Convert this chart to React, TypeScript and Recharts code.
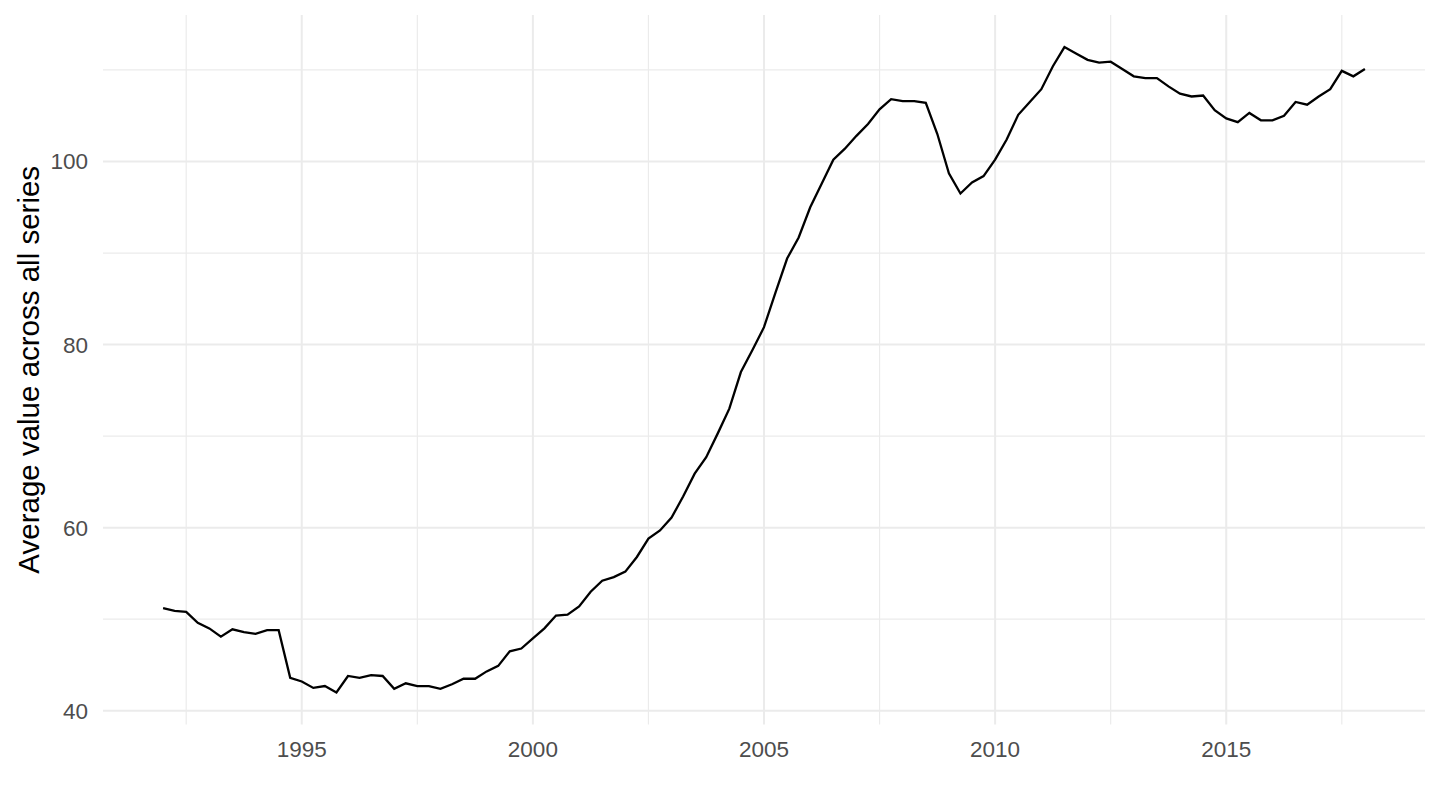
import React from "react";
import {
  LineChart,
  Line,
  XAxis,
  YAxis,
  ReferenceLine,
  Label,
} from "recharts";

// quarterly series, 1992 Q1 .. 2018 Q1
const years = [
  1992, 1993, 1994, 1995, 1996, 1997, 1998, 1999, 2000, 2001, 2002, 2003, 2004,
  2005, 2006, 2007, 2008, 2009, 2010, 2011, 2012, 2013, 2014, 2015, 2016, 2017,
  2018,
];
const quarterOffsets = [0, 0.25, 0.5, 0.75];

const averageValues = [
  51.2, 50.9, 50.8, 49.6,
  49.0, 48.1, 48.9, 48.6,
  48.4, 48.8, 48.8, 43.6,
  43.2, 42.5, 42.7, 42.0,
  43.8, 43.6, 43.9, 43.8,
  42.4, 43.0, 42.7, 42.7,
  42.4, 42.9, 43.5, 43.5,
  44.3, 44.9, 46.5, 46.8,
  47.9, 49.0, 50.4, 50.5,
  51.4, 53.0, 54.2, 54.6,
  55.2, 56.8, 58.8, 59.7,
  61.1, 63.4, 65.9, 67.7,
  70.3, 73.0, 77.0, 79.4,
  81.9, 85.7, 89.4, 91.7,
  95.0, 97.6, 100.2, 101.4,
  102.8, 104.1, 105.7, 106.8,
  106.6, 106.6, 106.4, 103.0,
  98.7, 96.5, 97.7, 98.4,
  100.2, 102.4, 105.1, 106.5,
  107.9, 110.4, 112.5, 111.8,
  111.1, 110.8, 110.9, 110.1,
  109.3, 109.1, 109.1, 108.2,
  107.4, 107.1, 107.2, 105.6,
  104.7, 104.3, 105.3, 104.5,
  104.5, 105.0, 106.5, 106.2,
  107.1, 107.9, 109.9, 109.3,
  110.1,
];

const xTicks = [1995, 2000, 2005, 2010, 2015];
const xMinorTicks = [1992.5, 1997.5, 2002.5, 2007.5, 2012.5, 2017.5];
const yTicks = [40, 60, 80, 100];
const yMinorTicks = [50, 70, 90, 110];

const times = years.flatMap((y) => quarterOffsets.map((q) => y + q));
const data = averageValues.map((v, i) => ({ t: times[i], value: v }));

const FONT = "'Liberation Sans', Arial, Helvetica, sans-serif";
const GRID = "#EBEBEB";

const YTitle = ({ viewBox }: any) => {
  const x = viewBox.x + 28;
  const y = viewBox.y + viewBox.height / 2;
  return (
    <text
      x={x}
      y={y}
      transform={`rotate(-90, ${x}, ${y})`}
      textAnchor="middle"
      dominantBaseline="central"
      fontFamily={FONT}
      fontSize={29.5}
      fill="#000000"
    >
      Average value across all series
    </text>
  );
};

export default function App() {
  return (
    <div style={{ width: 1440, height: 810, background: "#fff" }}>
      <style>{`body{margin:0}`}</style>
      <LineChart
        width={1440}
        height={810}
        data={data}
        margin={{ top: 15, right: 15, bottom: 0, left: 0 }}
      >
        {/* minor grid (thin) */}
        {xMinorTicks.map((t) => (
          <ReferenceLine key={`xm${t}`} x={t} stroke={GRID} strokeWidth={1.2} />
        ))}
        {yMinorTicks.map((t) => (
          <ReferenceLine key={`ym${t}`} y={t} stroke={GRID} strokeWidth={1.2} />
        ))}
        {/* major grid */}
        {xTicks.map((t) => (
          <ReferenceLine key={`x${t}`} x={t} stroke={GRID} strokeWidth={2} />
        ))}
        {yTicks.map((t) => (
          <ReferenceLine key={`y${t}`} y={t} stroke={GRID} strokeWidth={2} />
        ))}
        <XAxis
          dataKey="t"
          type="number"
          domain={[1990.7, 2019.3]}
          ticks={xTicks}
          height={85.5}
          axisLine={false}
          tickLine={false}
          tickMargin={11}
          tick={{ fill: "#4D4D4D", fontSize: 22.5, fontFamily: FONT }}
        />
        <YAxis
          type="number"
          domain={[38.5, 116.0]}
          ticks={yTicks}
          width={103}
          axisLine={false}
          tickLine={false}
          tickMargin={9}
          tick={{ fill: "#4D4D4D", fontSize: 22.5, fontFamily: FONT }}
        >
          <Label content={<YTitle />} />
        </YAxis>
        <Line
          type="linear"
          dataKey="value"
          stroke="#000000"
          strokeWidth={2.3}
          dot={false}
          activeDot={false}
          isAnimationActive={false}
        />
      </LineChart>
    </div>
  );
}
